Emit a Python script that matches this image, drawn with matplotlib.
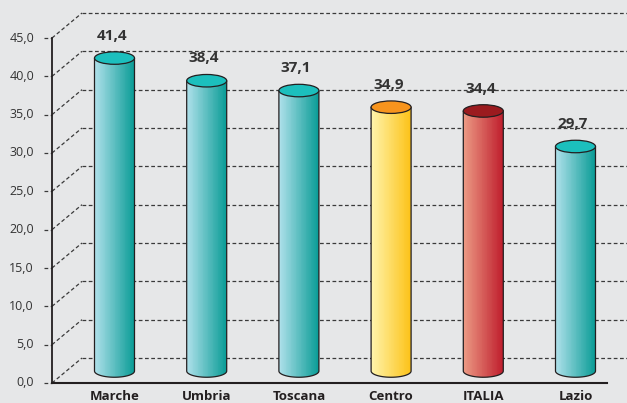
import numpy as np
import matplotlib
matplotlib.use("Agg")
import matplotlib.pyplot as plt
from matplotlib.patches import Rectangle, Ellipse, PathPatch
from matplotlib.path import Path
from matplotlib.transforms import Affine2D

plt.rcParams['font.family'] = ['Open Sans', 'DejaVu Sans']

categories = ["Marche", "Umbria", "Toscana", "Centro", "ITALIA", "Lazio"]
values = [41.4, 38.4, 37.1, 34.9, 34.4, 29.7]
yticks = [0, 5, 10, 15, 20, 25, 30, 35, 40, 45]

TEAL = ("#aee0ea", "#0a9c96", "#1cbfbd")
YELLOW = ("#fff4ac", "#fcc218", "#f7941d")
RED = ("#ec9a84", "#bf1e2d", "#9b1b1f")
bar_styles = [TEAL, TEAL, TEAL, YELLOW, RED, TEAL]

BG = "#e6e7e8"
INK = "#231f20"

W, H = 627, 403
fig = plt.figure(figsize=(W / 100, H / 100), dpi=100, facecolor=BG)
left_px, right_px, bot_px, top_px = 52, 627, 383, 38
ax = fig.add_axes([left_px / W, (H - bot_px) / H, (right_px - left_px) / W, (bot_px - top_px) / H])
ax.set_facecolor(BG)
first_c, step_c = 114.5, 92.2
xmin = (left_px - first_c) / step_c
xmax = (right_px - first_c) / step_c
ax.set_xlim(xmin, xmax)
ax.set_ylim(0, 45)
ax.axis("off")

sx = (right_px - left_px) / (xmax - xmin)   # px per x unit
sy = (bot_px - top_px) / 45.0               # px per y unit
DX, DY = 30 / sx, 25 / sy                   # back-wall depth

grid_kw = dict(color="#3a3a3a", lw=0.9, ls=(0, (3, 2)), clip_on=False, zorder=1)
for t in yticks:
    ax.plot([xmin, xmin + DX], [t, t + DY], **grid_kw)
    ax.plot([xmin + DX, xmax], [t + DY, t + DY], **grid_kw)
    ax.plot([xmin - 8 / sx, xmin], [t, t], **grid_kw)
    ax.text(xmin - 18 / sx, t, f"{t:.1f}".replace(".", ","), ha="right", va="center",
            fontsize=9, color="#333333")

ax.plot([xmin, xmin], [0, 45], color=INK, lw=1.3, clip_on=False, zorder=2)
ax.plot([xmin, xmax - 20 / sx], [0, 0], color=INK, lw=1.5, clip_on=False, zorder=2)

# bars sit slightly inside the depth and on a marginally compressed scale
y0_disp = ax.transData.transform((0, 0))[1]
bar_tr = ax.transData + Affine2D().translate(0, -y0_disp).scale(1, 0.986).translate(0, y0_disp + 12)
CW = 40 / sx
EH = 12.5 / (sy * 0.986)
NSTRIP = 48

for i, (cat, v, sty) in enumerate(zip(categories, values, bar_styles)):
    l, r = i - CW / 2, i + CW / 2
    th = np.linspace(np.pi, 2 * np.pi, 40)
    arc = np.column_stack([i + CW / 2 * np.cos(th), EH / 2 * np.sin(th)])
    verts = np.vstack([[[l, v]], arc, [[r, v]], [[l, v]]])
    codes = [Path.MOVETO] + [Path.LINETO] * (len(verts) - 2) + [Path.CLOSEPOLY]
    body = Path(verts, codes)
    clip = PathPatch(body, transform=bar_tr, fc="none", ec="none")
    ax.add_patch(clip)
    c0 = np.array(matplotlib.colors.to_rgb(sty[0]))
    c1 = np.array(matplotlib.colors.to_rgb(sty[1]))
    sw = CW / NSTRIP
    for k in range(NSTRIP):
        f = k / (NSTRIP - 1)
        col = c0 * (1 - f) + c1 * f
        rect = Rectangle((l + k * sw, -EH), sw * 1.05, v + EH, transform=bar_tr,
                         fc=col, ec="none", zorder=3)
        ax.add_patch(rect)
        rect.set_clip_path(clip)
    ax.add_patch(PathPatch(body, transform=bar_tr, fc="none", ec=INK, lw=0.9, zorder=4))
    ax.add_patch(Ellipse((i, v), CW, EH, transform=bar_tr, fc=sty[2], ec=INK, lw=0.9, zorder=5))
    top_disp = bar_tr.transform((i, v))
    ax.annotate(f"{v:.1f}".replace(".", ","), top_disp, xycoords="figure pixels",
                xytext=(-2, 16), textcoords="offset points",
                ha="center", va="center", fontsize=11, fontweight="bold", color="#333333",
                annotation_clip=False)
    ax.annotate(cat, (i, 0), xytext=(0, -5), textcoords="offset points",
                ha="center", va="top", fontsize=9.5, fontweight="bold", color=INK,
                annotation_clip=False)

fig.savefig("out.png", dpi=100, facecolor=BG)
